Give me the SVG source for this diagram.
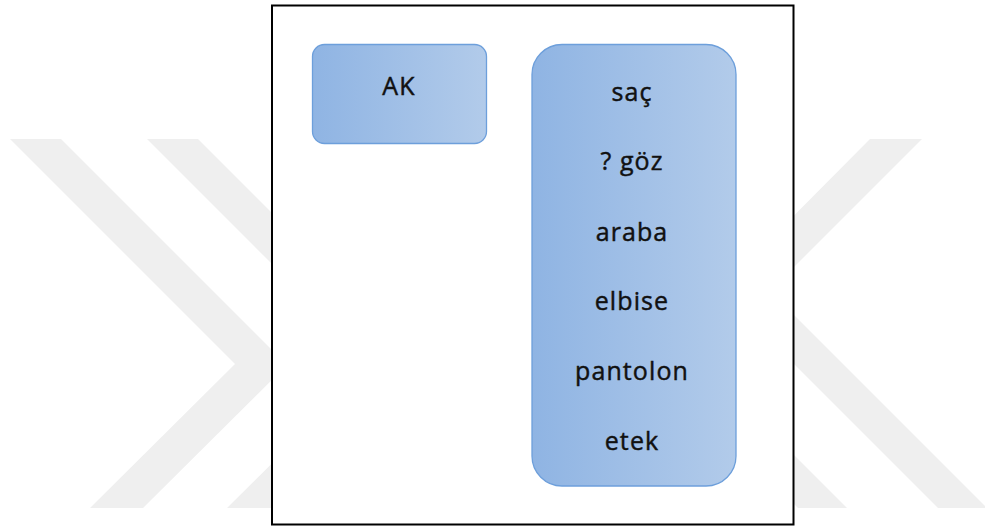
<svg xmlns="http://www.w3.org/2000/svg" width="985" height="527" viewBox="0 0 985 527">
  <defs>
    <linearGradient id="blueGrad" x1="0" y1="0" x2="1" y2="0">
      <stop offset="0" stop-color="#8fb4e3"/>
      <stop offset="1" stop-color="#b2cbea"/>
    </linearGradient>
    <style>
      .wm { fill: #efefef; }
      .box { fill: url(#blueGrad); stroke: #6d9fdb; stroke-width: 1.3; }
      .lbl { font-family: "Open Sans", "Liberation Sans", sans-serif; font-size: 25px; fill: #111111; stroke: #111111; stroke-width: 0.45px; text-anchor: middle; letter-spacing: 1.1px; }
    </style>
  </defs>
  <rect x="0" y="0" width="985" height="527" fill="#ffffff"/>
  <g id="watermark">
    <polygon class="wm" points="10,139 61,139 287,365 143,508 90,508 235,364"/>
    <polygon class="wm" points="147,139 198,139 424,365 280,508 227,508 372,364"/>
    <polygon class="wm" points="870,139 922,139 770,291 987,508 938,508 720,290"/>
    <polygon class="wm" points="730,139 782,139 630,291 847,508 798,508 580,290"/>
  </g>
  <rect id="frame" x="272" y="5.5" width="521.5" height="519" fill="#ffffff" stroke="#000000" stroke-width="2"/>
  <g id="node-ak">
    <rect class="box" x="312.5" y="44.5" width="174" height="99" rx="12" ry="12"/>
    <text class="lbl" x="399" y="95">AK</text>
  </g>
  <g id="node-list">
    <rect class="box" x="532" y="44.5" width="204" height="441.5" rx="30" ry="30"/>
    <text class="lbl" x="632" y="100.5">saç</text>
    <text class="lbl" x="632" y="170">? göz</text>
    <text class="lbl" x="632" y="240.5">araba</text>
    <text class="lbl" x="632" y="310">elbise</text>
    <text class="lbl" x="632" y="380">pantolon</text>
    <text class="lbl" x="632" y="449.5">etek</text>
  </g>
  <g id="connectors"/>
</svg>
